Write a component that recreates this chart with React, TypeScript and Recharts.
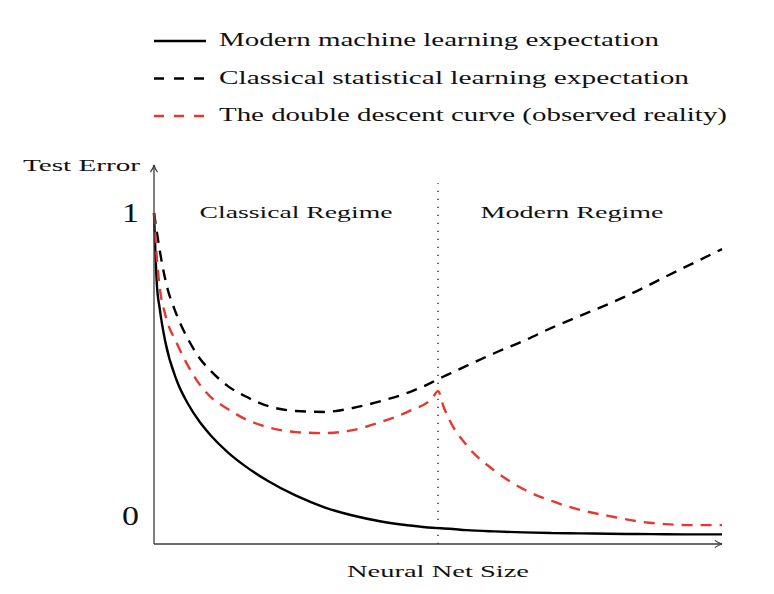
import React from "react";
import {
  LineChart,
  Line,
  XAxis,
  YAxis,
  ReferenceLine,
  ReferenceArea,
  Legend,
} from "recharts";

// network size (arbitrary units, 0-100) and test error
const netSize = [
  0, 0.5, 1, 2, 4, 6, 8, 10, 13, 16, 20, 25, 30, 35, 40, 45, 49, 50, 51, 52,
  55, 60, 65, 70, 75, 80, 85, 90, 95, 100,
];
const modernError = [
  1.0, 0.785, 0.712, 0.61, 0.494, 0.423, 0.37, 0.328, 0.277, 0.236, 0.191,
  0.146, 0.111, 0.086, 0.068, 0.056, 0.049, 0.048, 0.047, 0.046, 0.042, 0.038,
  0.035, 0.033, 0.032, 0.031, 0.03, 0.0295, 0.029, 0.029,
];
const classicalError = [
  1.0, 0.943, 0.888, 0.798, 0.692, 0.619, 0.562, 0.523, 0.477, 0.447, 0.417,
  0.402, 0.399, 0.411, 0.432, 0.459, 0.489, 0.498, 0.506, 0.514, 0.538, 0.577,
  0.613, 0.653, 0.689, 0.725, 0.764, 0.807, 0.849, 0.891,
];
const doubleDescentError = [
  1.0, 0.864, 0.776, 0.692, 0.607, 0.538, 0.483, 0.444, 0.408, 0.378, 0.353,
  0.338, 0.335, 0.344, 0.369, 0.402, 0.441, 0.462, 0.414, 0.375, 0.299, 0.221,
  0.166, 0.13, 0.103, 0.085, 0.069, 0.06, 0.057, 0.057,
];
const errorTicks = [0, 1];
const regimeSplit = 50;
const dividerTop = 1.09;

const chartData = netSize.map((size, i) => ({
  size,
  modern: modernError[i],
  classical: classicalError[i],
  doubleDescent: doubleDescentError[i],
}));

const serif = "'Liberation Serif', 'Times New Roman', serif";
const red = "#e8382d";

// the figure's text is wide (stretched), so each label gets a fixed length
function WideText({ x, y, width, size, anchor = "start", children }: any) {
  return (
    <text
      x={x}
      y={y}
      fontSize={size}
      fontFamily={serif}
      textAnchor={anchor}
      textLength={width}
      lengthAdjust="spacingAndGlyphs"
      fill="#111"
    >
      {children}
    </text>
  );
}

const legendOrder = ["modern", "classical", "doubleDescent"];
const legendStyle: Record<string, { dash?: string; width: number }> = {
  modern: { width: 440 },
  classical: { dash: "10 10", width: 470 },
  doubleDescent: { dash: "10 10", width: 508 },
};

function LegendRows({ payload }: any) {
  const rows = [...(payload || [])].sort(
    (a: any, b: any) =>
      legendOrder.indexOf(a.dataKey) - legendOrder.indexOf(b.dataKey)
  );
  return (
    <svg width={758} height={130}>
      {rows.map((entry: any, i: number) => {
        const cy = 33 + i * 37.5;
        const style = legendStyle[entry.dataKey] || { width: 400 };
        return (
          <g key={entry.dataKey}>
            <line
              x1={146}
              x2={198}
              y1={cy}
              y2={cy}
              stroke={entry.color}
              strokeWidth={2.4}
              strokeDasharray={style.dash}
            />
            <WideText x={211} y={cy + 5} width={style.width} size={18}>
              {entry.value}
            </WideText>
          </g>
        );
      })}
    </svg>
  );
}

function ErrorTick({ x, y, payload }: any) {
  const shift = payload.value === 0 ? -28 : 0;
  return (
    <WideText x={x} y={y + shift + 9} width={17} size={27} anchor="end">
      {payload.value}
    </WideText>
  );
}

const axisStroke = { stroke: "#3a3a3a", strokeWidth: 1.3 };

export default function App() {
  return (
    <div style={{ position: "relative", width: 758, height: 578 }}>
      <svg width={0} height={0} style={{ position: "absolute" }}>
        <defs>
          <marker
            id="axis-arrow"
            viewBox="0 0 10 10"
            refX={9}
            refY={5}
            markerWidth={9}
            markerHeight={9}
            markerUnits="userSpaceOnUse"
            orient="auto-start-reverse"
          >
            <path
              d="M1,1 Q5,4 9,5 Q5,6 1,9"
              fill="none"
              stroke="#333"
              strokeWidth={1.2}
            />
          </marker>
        </defs>
      </svg>
      <LineChart
        width={758}
        height={578}
        data={chartData}
        margin={{ top: 157, right: 44, bottom: 2, left: 96 }}
      >
        <XAxis
          dataKey="size"
          type="number"
          domain={[0, 100]}
          tick={false}
          tickLine={false}
          height={40}
          axisLine={{ ...axisStroke, markerEnd: "url(#axis-arrow)" }}
          label={{
            content: (p: any) => (
              <WideText
                x={p.viewBox.x + p.viewBox.width / 2}
                y={p.viewBox.y + 33}
                width={182}
                size={17}
                anchor="middle"
              >
                Neural Net Size
              </WideText>
            ),
          }}
        />
        <YAxis
          type="number"
          domain={[0, 1.145]}
          ticks={errorTicks}
          tickLine={false}
          tickSize={0}
          tickMargin={15}
          width={50}
          tick={<ErrorTick />}
          axisLine={{ ...axisStroke, markerStart: "url(#axis-arrow)" }}
          label={{
            content: (p: any) => (
              <WideText
                x={p.viewBox.x + p.viewBox.width - 14}
                y={p.viewBox.y + 6}
                width={117}
                size={17}
                anchor="end"
              >
                Test Error
              </WideText>
            ),
          }}
        />
        <ReferenceArea
          x1={0}
          x2={regimeSplit}
          fill="none"
          stroke="none"
          label={{
            content: (p: any) => (
              <WideText
                x={p.viewBox.x + p.viewBox.width / 2}
                y={p.viewBox.y + 53}
                width={193}
                size={17}
                anchor="middle"
              >
                Classical Regime
              </WideText>
            ),
          }}
        />
        <ReferenceArea
          x1={regimeSplit}
          x2={100}
          fill="none"
          stroke="none"
          label={{
            content: (p: any) => (
              <WideText
                x={p.viewBox.x + p.viewBox.width / 2 - 8}
                y={p.viewBox.y + 53}
                width={183}
                size={17}
                anchor="middle"
              >
                Modern Regime
              </WideText>
            ),
          }}
        />
        <ReferenceLine
          segment={[
            { x: regimeSplit, y: 0 },
            { x: regimeSplit, y: dividerTop },
          ]}
          stroke="#111"
          strokeWidth={1.3}
          strokeDasharray="1.3 6.7"
        />
        <Legend
          layout="horizontal"
          verticalAlign="middle"
          align="center"
          wrapperStyle={{ top: 0, left: 0, width: 758, height: 130 }}
          content={(props: any) => <LegendRows {...props} />}
        />
        <Line
          type="monotone"
          dataKey="modern"
          name="Modern machine learning expectation"
          stroke="#000"
          strokeWidth={2.4}
          dot={false}
          activeDot={false}
          isAnimationActive={false}
        />
        <Line
          type="monotone"
          dataKey="classical"
          name="Classical statistical learning expectation"
          stroke="#000"
          strokeWidth={2.4}
          strokeDasharray="11 8"
          dot={false}
          activeDot={false}
          isAnimationActive={false}
        />
        <Line
          type="monotone"
          dataKey="doubleDescent"
          name="The double descent curve (observed reality)"
          stroke={red}
          strokeWidth={2.4}
          strokeDasharray="11 8"
          dot={false}
          activeDot={false}
          isAnimationActive={false}
        />
      </LineChart>
    </div>
  );
}
